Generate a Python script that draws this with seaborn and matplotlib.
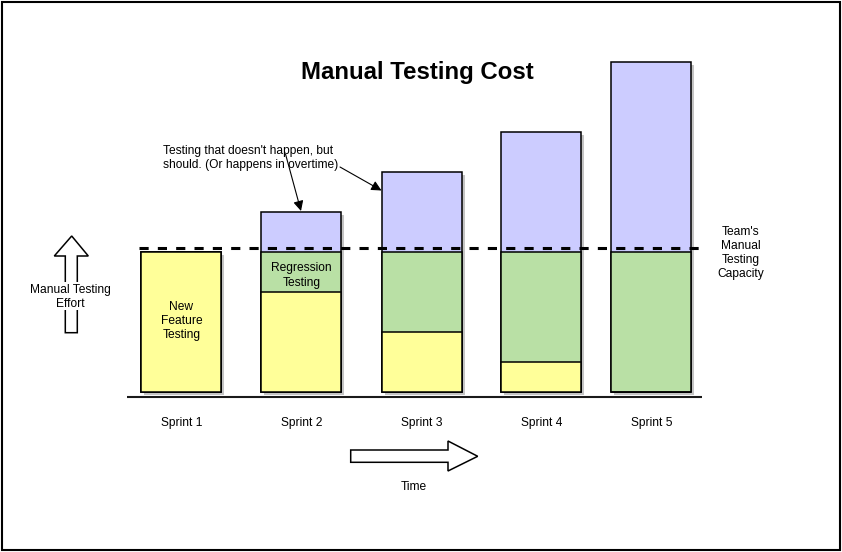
import numpy as np
import pandas as pd
import matplotlib
matplotlib.use("Agg")
import matplotlib.pyplot as plt
import matplotlib.patheffects as pe
from matplotlib.patches import Polygon, Rectangle, FancyArrowPatch
import seaborn as sns

# ---------------- data ----------------
sprints = ["Sprint 1", "Sprint 2", "Sprint 3", "Sprint 4", "Sprint 5"]
new_feature = [14, 10, 6, 3, 0]      # yellow
regression = [0, 4, 8, 11, 14]       # green
missed = [0, 4, 8, 12, 19]           # purple (testing that doesn't happen)
capacity = 14.4                      # team's manual testing capacity

# ---------------- layout (pixels) ----------------
W, H = 842, 552
bar_centers = [181.3, 301.3, 421.5, 541.3, 651.3]
bar_width_px = 80
base_py = 391.5       # pixel row of the bars' bottom
px_per_unit = 10.0
FS = 8.64             # 12 px text
CAP = 4.3             # half cap height (px) for 12 px text

YELLOW = "#FFFF99"
GREEN = "#B9E0A5"
PURPLE = "#CCCCFF"
SHADOW = "#C4C4C4"

sns.set_theme(style="white")
plt.rcParams["font.family"] = ["Liberation Sans", "DejaVu Sans"]

fig = plt.figure(figsize=(W / 100, H / 100), dpi=100)
fig.patch.set_facecolor("white")

ax = fig.add_axes([0, 0, 1, 1])
deco = fig.add_axes([0, 0, 1, 1], zorder=5)
deco.patch.set_visible(False)

df = pd.DataFrame({
    "sprint": sprints,
    "x": bar_centers,
    "new": new_feature,
    "reg": regression,
    "missed": missed,
})
df["nr"] = df["new"] + df["reg"]
df["total"] = df["nr"] + df["missed"]

native = min(np.diff(sorted(bar_centers)))
layers = [("total", PURPLE), ("nr", GREEN), ("new", YELLOW)]
for i, (col, colr) in enumerate(layers):
    n0 = len(ax.patches)
    sns.barplot(data=df, x="x", y=col, native_scale=True, orient="x",
                color=colr, saturation=1, edgecolor="black", linewidth=1.1,
                width=bar_width_px / native, errorbar=None, ax=ax)
    if i == 0:
        for p in ax.patches[n0:]:
            p.set_path_effects([pe.SimplePatchShadow(offset=(2.2, -2.2),
                                                     shadow_rgbFace=SHADOW,
                                                     alpha=1.0),
                                pe.Normal()])

# capacity dashed line
ax.plot([139, 701.7], [capacity, capacity], color="black", lw=2.2,
        ls=(0, (3, 3)), solid_capstyle="butt", dash_capstyle="butt", zorder=10)

ax.set_xlim(0, W)
ax.set_ylim((base_py - H) / px_per_unit, base_py / px_per_unit)
ax.axis("off")

# ---------------- decorations (pixel space) ----------------
deco.set_xlim(0, W)
deco.set_ylim(H, 0)
deco.axis("off")

def txt(x, y_center, s, size=FS, ha="center", weight="normal", cap=CAP):
    deco.text(x, y_center + cap, s, ha=ha, va="baseline", fontsize=size,
              fontweight=weight, color="black", zorder=20)

# frame
deco.add_patch(Rectangle((2, 2), W - 4, H - 4, fill=False, ec="black", lw=1.5))

# baseline
deco.plot([127, 701.7], [396.7, 396.7], color="#1a1a1a", lw=1.5,
          solid_capstyle="butt")

# title
txt(417, 70.5, "Manual Testing Cost", size=17.3, weight="bold", cap=8.6)

# sprint labels
for xc, s in zip(bar_centers, sprints):
    txt(xc, 421.3, s)

# in-bar labels
for yy, s in zip([306, 320, 333.7], ["New", "Feature", "Testing"]):
    txt(181.5, yy, s)
for yy, s in zip([266.7, 281.3], ["Regression", "Testing"]):
    txt(301.5, yy, s)

# capacity label
for yy, s in zip([231, 245, 259, 272.7], ["Team's", "Manual", "Testing", "Capacity"]):
    txt(741, yy, s)

# annotation
txt(163.3, 150, "Testing that doesn't happen, but", ha="left")
txt(163.3, 163.5, "should. (Or happens in overtime)", ha="left")
for a, b in [((285.5, 154), (301, 211)), ((340, 167), (381.5, 190.5))]:
    deco.add_patch(FancyArrowPatch(a, b, arrowstyle="-|>", mutation_scale=15,
                                   lw=0.8, color="black", shrinkA=0, shrinkB=0,
                                   zorder=15))

# up arrow (effort)
up = [(71.7, 236), (88.3, 256), (77.3, 256), (77.3, 332.7), (65.3, 332.7),
      (65.3, 256), (54.3, 256)]
deco.add_patch(Polygon(up, closed=True, fc="white", ec="black", lw=1.1,
                       joinstyle="miter", zorder=12))
deco.add_patch(Rectangle((62, 282), 18, 28, fc="white", ec="none", zorder=13))
txt(70.3, 289, "Manual Testing")
txt(70.3, 302.3, "Effort")

# time arrow
rt = [(350.7, 450), (448, 450), (448, 441), (477.7, 456.3), (448, 471),
      (448, 462.3), (350.7, 462.3)]
deco.add_patch(Polygon(rt, closed=True, fc="white", ec="black", lw=1.1,
                       joinstyle="miter", zorder=12))
txt(413.3, 486, "Time")

fig.savefig("out.png", dpi=100, facecolor="white")
